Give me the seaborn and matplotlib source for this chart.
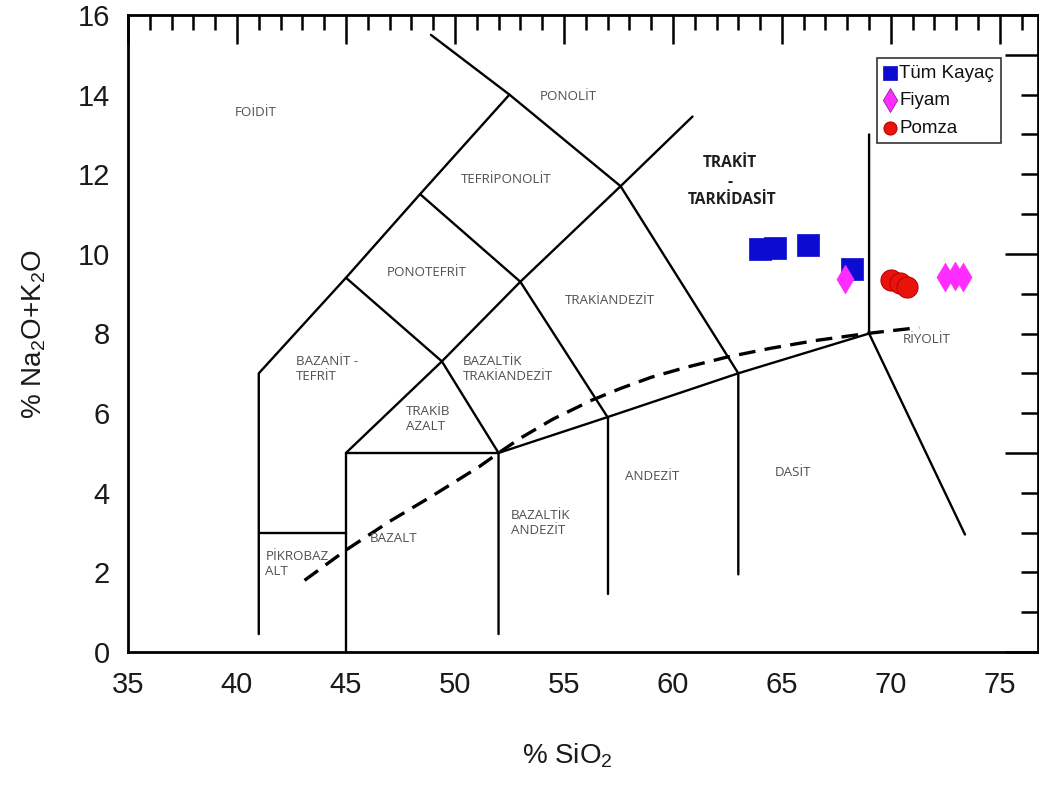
import matplotlib
matplotlib.use("Agg")
import matplotlib.pyplot as plt
import seaborn as sns
import pandas as pd
from matplotlib.ticker import MultipleLocator, FuncFormatter

sns.set_theme(style="white")
plt.rcParams['font.family'] = ['Liberation Sans', 'DejaVu Sans']
plt.rcParams['mathtext.fontset'] = 'custom'
plt.rcParams['mathtext.rm'] = 'Liberation Sans'
plt.rcParams['mathtext.it'] = 'Liberation Sans:italic'

# ---- sample data ----
tum_sio2 = [64.0, 64.7, 66.2, 68.2]
tum_alk = [10.13, 10.16, 10.23, 9.62]
fiyam_sio2 = [67.9, 72.5, 72.95, 73.3]
fiyam_alk = [9.37, 9.42, 9.45, 9.42]
pomza_sio2 = [70.0, 70.4, 70.75]
pomza_alk = [9.35, 9.27, 9.17]

# ---- TAS boundaries ----
boundary_lines = [
    [(41, 0.45), (41, 7), (45, 9.4), (48.4, 11.5), (52.5, 14), (57.6, 11.7), (63, 7), (63, 1.95)],
    [(48.9, 15.5), (52.5, 14)],
    [(41, 3), (45, 3)],
    [(45, 0), (45, 5), (52, 5)],
    [(52, 0.45), (52, 5), (57, 5.9), (63, 7), (69, 8), (69, 13)],
    [(57, 1.45), (57, 5.9)],
    [(69, 8), (73.4, 2.95)],
    [(45, 5), (49.4, 7.3), (53, 9.3), (57.6, 11.7), (60.9, 13.45)],
    [(45, 9.4), (49.4, 7.3), (52, 5)],
    [(48.4, 11.5), (53, 9.3), (57, 5.9)],
]
dash_x = [43.1, 45.0, 47.0, 48.9, 51.1, 52.0, 53.0, 54.5, 56.3, 57.6, 59.0, 60.6, 62.5, 64.5, 66.5, 68.9, 71.3]
dash_y = [1.8, 2.56, 3.28, 3.9, 4.65, 5.0, 5.37, 5.85, 6.33, 6.62, 6.9, 7.15, 7.41, 7.63, 7.82, 8.0, 8.15]

# ---- region labels ----
region_labels = [
    ("FOİDİT", 40.85, 13.55, 'center'),
    ("PONOLİT", 55.2, 13.95, 'center'),
    ("TEFRİPONOLİT", 52.35, 11.86, 'center'),
    ("PONOTEFRİT", 48.7, 9.52, 'center'),
    ("TRAKİANDEZİT", 57.1, 8.84, 'center'),
    ("BAZANİT -\nTEFRİT", 42.7, 7.12, 'left'),
    ("BAZALTİK\nTRAKİANDEZİT", 50.35, 7.12, 'left'),
    ("TRAKİB\nAZALT", 47.75, 5.85, 'left'),
    ("PİKROBAZ\nALT", 41.3, 2.2, 'left'),
    ("BAZALT", 47.2, 2.86, 'center'),
    ("BAZALTİK\nANDEZİT", 52.55, 3.25, 'left'),
    ("ANDEZİT", 59.05, 4.42, 'center'),
    ("DASİT", 65.5, 4.52, 'center'),
    ("RİYOLİT", 71.65, 7.84, 'center'),
]

fig = plt.figure(figsize=(10.39, 7.87), dpi=100)
ax = fig.add_axes([128 / 1039, 135 / 787, 910 / 1039, 637 / 787])

for line in boundary_lines:
    df = pd.DataFrame(line, columns=["x", "y"])
    sns.lineplot(data=df, x="x", y="y", sort=False, color="black", lw=1.7, ax=ax,
                 estimator=None)
sns.lineplot(x=dash_x, y=dash_y, sort=False, color="black", lw=2.4, ax=ax,
             estimator=None, dashes=False)
ax.lines[-1].set_linestyle((0, (5, 2.8)))

for txt, x, y, ha in region_labels:
    ax.text(x, y, txt, ha=ha, va='center', fontsize=9.6, color='#505050',
            family=['Open Sans', 'DejaVu Sans'], linespacing=1.2)
bold_kw = dict(ha='center', va='center', fontsize=11.2, color='#1e1e1e',
               family=['Open Sans', 'DejaVu Sans'], fontweight='bold')
ax.text(62.6, 12.29, "TRAKİT", **bold_kw)
ax.text(62.6, 11.8, "-", **bold_kw)
ax.text(62.7, 11.36, "TARKİDASİT", **bold_kw)

sns.scatterplot(x=tum_sio2, y=tum_alk, marker='s', s=250, color='#0b0bd2',
                edgecolor='#0b0bd2', linewidth=0.5, label='Tüm Kayaç', ax=ax, zorder=5)
sns.scatterplot(x=fiyam_sio2, y=fiyam_alk, marker='d', s=210, color='#ff2cff',
                edgecolor='#ff2cff', linewidth=0.5, label='Fiyam', ax=ax, zorder=6)
sns.scatterplot(x=pomza_sio2, y=pomza_alk, marker='o', s=230, color='#e8140c',
                edgecolor='#c00000', linewidth=0.8, label='Pomza', ax=ax, zorder=5)

leg = ax.legend(loc='upper left', bbox_to_anchor=(0.823, 0.9325), borderaxespad=0,
                fontsize=13.5, markerscale=0.62, handlelength=0.7, handletextpad=0.15,
                labelspacing=0.55, borderpad=0.35, fancybox=False, frameon=True)
leg.get_frame().set_edgecolor('black')
leg.get_frame().set_linewidth(1.2)
leg.legend_handles[1].set_edgecolor('#7a1a8a')
leg.legend_handles[1].set_sizes([150])
for t in leg.get_texts():
    t.set_color('#111111')

ax.set_xlim(35, 76.75)
ax.set_ylim(0, 16)
ax.xaxis.set_major_locator(MultipleLocator(5))
ax.xaxis.set_minor_locator(MultipleLocator(1))
ax.yaxis.set_major_locator(MultipleLocator(5))
ax.yaxis.set_minor_locator(MultipleLocator(1))
ax.yaxis.set_major_formatter(FuncFormatter(lambda v, p: f"{int(round(v))}" if round(v) % 2 == 0 else ""))
ax.yaxis.set_minor_formatter(FuncFormatter(lambda v, p: f"{int(round(v))}" if round(v) % 2 == 0 else ""))

ax.tick_params(axis='both', which='both', direction='in', top=True, right=True,
               color='black', width=1.8, labelcolor='#1a1a1a')
ax.tick_params(axis='x', which='major', length=21, labelsize=21, pad=14)
ax.tick_params(axis='x', which='minor', length=10.5)
ax.tick_params(axis='y', which='major', length=24, labelsize=21, pad=13)
ax.tick_params(axis='y', which='minor', length=12, labelsize=21, pad=13)
for sp in ax.spines.values():
    sp.set_color('black')
    sp.set_linewidth(2.0)

ax.set_xlabel(r'% SiO$_2$', fontsize=20, color='#1a1a1a')
ax.set_ylabel(r'% Na$_2$O+K$_2$O', fontsize=20, color='#1a1a1a')
ax.xaxis.set_label_coords(0.483, -0.14)
ax.yaxis.set_label_coords(-0.088, 0.5)

fig.savefig("out.png", dpi=100)
